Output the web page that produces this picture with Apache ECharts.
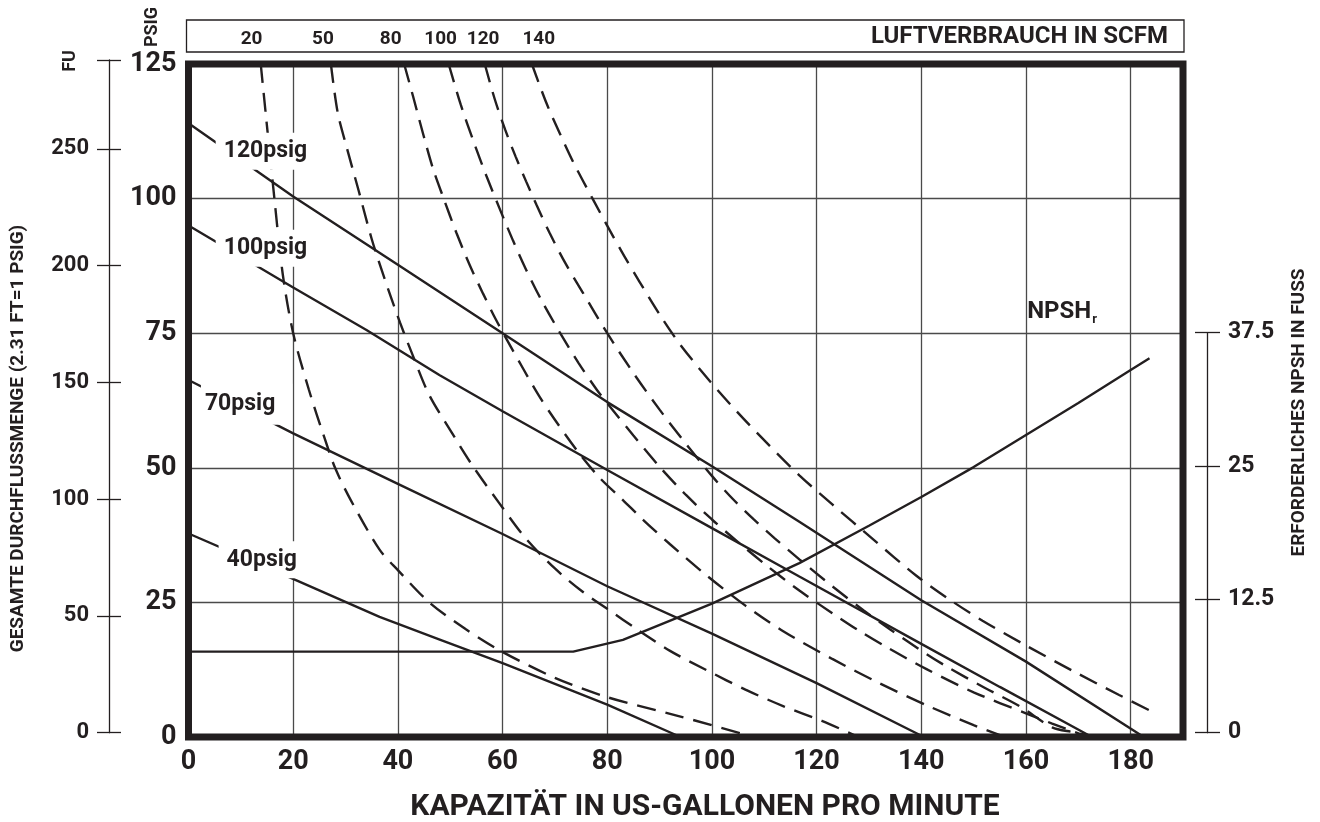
<!DOCTYPE html>
<html><head><meta charset="utf-8">
<script src="https://cdn.jsdelivr.net/npm/echarts@6/dist/echarts.min.js"></script>
<style>html,body{margin:0;padding:0;background:#fff}#c{width:1320px;height:822px}</style>
</head><body><div id="c"></div>
<script>
const INK = '#231f20';
const GRIDC = '#4a4a4a';
const FONT = 'Roboto, "Open Sans", sans-serif';

// tick labels
const gpmTicks = [0, 20, 40, 60, 80, 100, 120, 140, 160, 180];
const psiTicks = [0, 25, 50, 75, 100, 125];
const fuTicks = [0, 50, 100, 150, 200, 250];
const npshTicks = [0, 12.5, 25, 37.5];

// performance curves (gpm, psig)
const psig120 = [[0,114.0],[20,100.4],[40,87.7],[60,75.0],[80,62.2],[100,50.3],[116.7,40.0],[140,25.4],[160,14.0],[182.5,0]];
const psig100 = [[0,95.0],[20,83.5],[34,75.6],[48,67.2],[60,60.5],[80,49.6],[100,38.8],[116.7,29.8],[140,17.3],[155,9.3],[172.6,0]];
const psig70  = [[0,66.3],[20,56.4],[40,47.0],[60,37.7],[80,28.0],[100,19.2],[120,10.0],[140.5,0]];
const psig40  = [[0,37.8],[19,29.8],[36.5,22.3],[48,18.1],[60,13.7],[80,6.0],[94,0]];

// air consumption curves (gpm, psig)
const scfm20  = [[13.8,125],[16.2,102],[18,86],[20,75],[23,64.5],[26,55.5],[28,50],[31,44],[36.5,34.8],[40,31],[46,25],[53,20],[60,15.8],[70,11],[80,7.4],[94,3.8],[108,0]];
const scfm50  = [[27.2,125],[28.5,116],[30.2,109.6],[32.5,101.5],[35,92.5],[37.5,85],[40.4,77],[43,70.5],[46,63.5],[50,57],[54.4,50.2],[59.4,43.4],[64.5,36.8],[70,31.3],[75,27.2],[80,23.8],[86,19.8],[92,16],[99,12.4],[106.4,8.8],[113.7,5.7],[121,3.0],[128,0]];
const scfm80  = [[41.2,125],[42.9,119],[44.8,112.1],[46.7,105.6],[48.6,100.4],[51.2,93.6],[53.7,87.7],[56.3,82.3],[58.8,77.4],[61.4,72.8],[64,68.3],[67,63.3],[70.3,58.5],[74.7,52.6],[78.5,48.2],[83,44.0],[87,40.2],[92,35.8],[99,30],[106.4,24.4],[113.7,19.6],[123,14.5],[132,10.0],[141,5.9],[150,2.2],[156,0]];
const scfm100 = [[49.7,125],[52,117.5],[54.5,110.5],[57,104],[59.5,98],[62,92.2],[64.5,86.8],[67.5,81],[70.9,75.2],[74.5,69.5],[78,64.5],[81,60.8],[85,56],[90,50.2],[95,45],[100,40.4],[105,36.2],[110,32.2],[116.7,27.2],[123,23],[128,19.8],[133,16.9],[141,12.6],[150,8.3],[160,4.4],[165,2.5],[171,0.3]];
const scfm120 = [[56.6,125],[58.5,118.5],[60.5,112.8],[62.5,107.8],[64.5,103.2],[66.5,98.8],[69,93.6],[72,88],[75.3,82.6],[80,75],[85,67.6],[90,60.8],[95,54.5],[100,48.5],[104,44.2],[108,40.4],[112,36.9],[116.7,33],[123,28],[129,23.5],[134,20],[141,15.4],[145,13],[152,9.2],[159,5.6],[165,1.8],[169,0.9],[172,0.3]];
const scfm140 = [[65.6,125],[68.4,117.7],[70.9,112.2],[73.6,106.6],[77.3,99.8],[80.2,94.6],[83.2,89.4],[86.2,84.5],[90,78.5],[94,72.8],[99.7,66],[105,60.2],[110.3,54.8],[116.7,48.6],[123,43.2],[130.7,36.8],[139,30],[145.3,25.6],[151.7,21.6],[160,17],[168.9,12.3],[177.8,7.8],[183.5,5.0]];

// NPSH required (gpm, feet)
const npsh = [[0,7.6],[73.5,7.6],[83,8.7],[100,12.1],[116.7,15.9],[130,19.4],[140,22.1],[150,24.9],[160,27.9],[170,30.9],[180,34.0],[183.6,35.1]];

// annotations (text, gpm, psig)
const psigLabels = [['120psig',14.8,108.8],['100psig',14.8,90.8],['70psig',11.1,61.8],['40psig',14.1,32.9]];
const scfmLabels = [['20',12.4],['50',26.0],['80',38.9],['100',48.4],['120',56.5],['140',67.1]];
const npshLabel = ['NPSH', 'r', 166.9, 79.0];

const chart = echarts.init(document.getElementById('c'), null, {renderer: 'canvas'});

function lbl(size) {
  return {fontSize: size, fontWeight: 'bold', color: INK, fontFamily: FONT};
}
const noLine = {show: false, onZero: false};
const HIDDEN = {color: 'rgba(0,0,0,0)', opacity: 1};

const LW = 2.4;
const solid = (d) => ({type: 'line', xAxisIndex: 0, yAxisIndex: 0, data: d, symbol: 'none', silent: true, z: 3,
  lineStyle: {color: INK, width: LW}});
const dashed = (d) => ({type: 'line', xAxisIndex: 0, yAxisIndex: 0, data: d, symbol: 'none', silent: true, z: 3,
  smooth: 0.3, lineStyle: {color: INK, width: LW, type: [19, 10]}});

const option = {
  animation: false,
  backgroundColor: '#fff',
  grid: [
    {left: 188.5, right: 137, top: 64, bottom: 85, show: true, borderColor: INK, borderWidth: 7, backgroundColor: 'transparent', z: 4},
    {left: 109, right: 137, top: 60, bottom: 89.3},
    {left: 188.5, right: 137, top: 332.7, bottom: 89.3},
    {left: 186.5, right: 136, top: 20, bottom: 770, show: true, borderColor: INK, borderWidth: 1.3, backgroundColor: 'transparent'}
  ],
  xAxis: [
    {gridIndex: 0, type: 'value', min: 0, max: 190, interval: 20, axisLine: noLine, axisTick: {show: false},
      splitLine: {show: true, lineStyle: {color: GRIDC, width: 1.3}},
      axisLabel: Object.assign({margin: 12, formatter: v => gpmTicks.includes(v) ? String(v) : ''}, lbl(27))},
    {gridIndex: 1, type: 'value', min: 0, max: 190, show: false},
    {gridIndex: 2, type: 'value', min: 0, max: 190, show: false},
    {gridIndex: 3, type: 'value', min: 0, max: 190, show: false}
  ],
  yAxis: [
    {gridIndex: 0, type: 'value', min: 0, max: 125, interval: 25, axisLine: noLine, axisTick: {show: false},
      splitLine: {show: true, lineStyle: {color: GRIDC, width: 1.3}},
      axisLabel: Object.assign({margin: 12, formatter: v => psiTicks.includes(v) ? String(v) : ''}, lbl(27))},
    {gridIndex: 1, type: 'value', position: 'left', min: 0, max: 288, interval: 50,
      axisLine: {show: true, onZero: false, lineStyle: {color: INK, width: 1.3}},
      axisTick: {show: true, length: 12, lineStyle: {color: INK, width: 1.3}},
      splitLine: {show: false},
      axisLabel: Object.assign({margin: 20, formatter: v => fuTicks.includes(v) ? String(v) : ''}, lbl(22))},
    {gridIndex: 1, type: 'value', position: 'left', min: 0, max: 288, interval: 50,
      axisLine: {show: false, onZero: false},
      axisTick: {show: true, inside: true, length: 12, lineStyle: {color: INK, width: 1.3}},
      splitLine: {show: false}, axisLabel: {show: false}},
    {gridIndex: 2, type: 'value', position: 'right', offset: 24, min: 0, max: 37.5, interval: 12.5,
      axisLine: {show: true, onZero: false, lineStyle: {color: INK, width: 1.3}},
      axisTick: {show: true, length: 13, lineStyle: {color: INK, width: 1.3}},
      splitLine: {show: false},
      axisLabel: Object.assign({margin: 21, formatter: v => npshTicks.includes(v) ? String(v) : ''}, lbl(23))},
    {gridIndex: 2, type: 'value', position: 'right', offset: 24, min: 0, max: 37.5, interval: 12.5,
      axisLine: {show: false, onZero: false},
      axisTick: {show: true, inside: true, length: 12, lineStyle: {color: INK, width: 1.3}},
      splitLine: {show: false}, axisLabel: {show: false}},
    {gridIndex: 3, type: 'value', min: 0, max: 1, show: false}
  ],
  series: [
    solid(psig120), solid(psig100), solid(psig70), solid(psig40),
    dashed(scfm20), dashed(scfm50), dashed(scfm80), dashed(scfm100), dashed(scfm120), dashed(scfm140),
    {type: 'line', xAxisIndex: 2, yAxisIndex: 3, data: npsh, symbol: 'none', silent: true, z: 3,
      lineStyle: {color: INK, width: LW}},
    {type: 'scatter', xAxisIndex: 0, yAxisIndex: 0, silent: true, z: 10, symbolSize: 1, itemStyle: HIDDEN,
      data: psigLabels.map(d => {
        const item = {name: d[0], value: [d[1], d[2]]};
        if (d[0] === '70psig') item.label = {padding: [11, 17, 7, 4]};
        return item;
      }),
      label: Object.assign({show: true, opacity: 1, position: 'inside', formatter: '{b}', backgroundColor: '#ffffff', padding: [8, 9, 6, 8]}, lbl(23))},
    {type: 'scatter', xAxisIndex: 0, yAxisIndex: 0, silent: true, z: 10, symbolSize: 1, itemStyle: HIDDEN,
      data: [{name: npshLabel[0], value: [npshLabel[2], npshLabel[3]]}],
      label: {show: true, opacity: 1, position: 'inside', formatter: '{a|' + npshLabel[0] + '}{b|' + npshLabel[1] + '}',
        rich: {a: lbl(24), b: Object.assign({padding: [16, 0, 0, 1]}, lbl(13))}}},
    {type: 'scatter', xAxisIndex: 3, yAxisIndex: 5, silent: true, z: 10, symbolSize: 1, itemStyle: HIDDEN,
      data: scfmLabels.map(d => ({name: d[0], value: [d[1], 0.4]})),
      label: Object.assign({show: true, opacity: 1, position: 'inside', formatter: '{b}'}, lbl(19))}
  ],
  graphic: [
    {type: 'text', x: 1168, y: 37, style: {text: 'LUFTVERBRAUCH IN SCFM', fill: INK, font: 'bold 24px ' + FONT, textAlign: 'right', textVerticalAlign: 'middle', verticalAlign: 'middle'}},
    {type: 'text', x: 152.5, y: 27, rotation: Math.PI / 2, style: {text: 'PSIG', fill: INK, font: 'bold 18px ' + FONT, textAlign: 'center', textVerticalAlign: 'middle', verticalAlign: 'middle'}},
    {type: 'text', x: 70.5, y: 61, rotation: Math.PI / 2, style: {text: 'FU', fill: INK, font: 'bold 18px ' + FONT, textAlign: 'center', textVerticalAlign: 'middle', verticalAlign: 'middle'}},
    {type: 'text', x: 18.5, y: 438.5, rotation: Math.PI / 2, style: {text: 'GESAMTE DURCHFLUSSMENGE (2.31 FT=1 PSIG)', fill: INK, font: 'bold 19px ' + FONT, textAlign: 'center', textVerticalAlign: 'middle', verticalAlign: 'middle'}},
    {type: 'text', x: 1299, y: 412.5, rotation: Math.PI / 2, style: {text: 'ERFORDERLICHES NPSH IN FUSS', fill: INK, font: 'bold 19px ' + FONT, textAlign: 'center', textVerticalAlign: 'middle', verticalAlign: 'middle'}},
    {type: 'text', x: 705, y: 807, style: {text: 'KAPAZITÄT IN US-GALLONEN PRO MINUTE', fill: INK, font: 'bold 30px ' + FONT, textAlign: 'center', textVerticalAlign: 'middle', verticalAlign: 'middle'}}
  ]
};
chart.setOption(option);
</script>
</body></html>
